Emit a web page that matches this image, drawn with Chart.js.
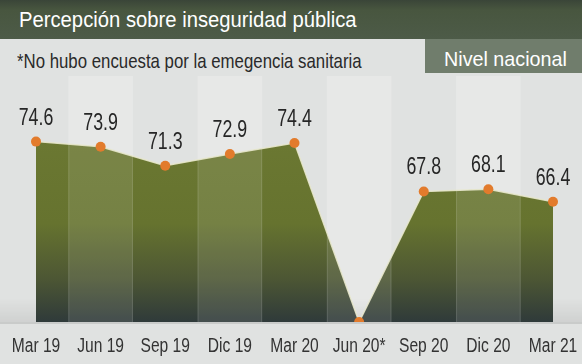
<!DOCTYPE html>
<html>
<head>
<meta charset="utf-8">
<script src="https://cdn.jsdelivr.net/npm/chart.js@4"></script>
<style>
  html, body { margin: 0; padding: 0; }
  body { width: 582px; height: 364px; background: #e0e2e1; position: relative; overflow: hidden;
         font-family: "Liberation Sans", sans-serif; }
  #header { position: absolute; left: 0; top: 0; width: 582px; height: 39px;
            background: linear-gradient(#3a4538 0, #48563f 10px, #4d5b48 100%); }
  .txt { position: absolute; white-space: nowrap; transform-origin: 0 0; }
  #title { left: 19px; top: 9px; color: #fff; font-size: 22px; line-height: 22px; transform: scaleX(0.92); }
  #note { left: 17px; top: 50px; color: #2a2a2a; font-size: 21px; line-height: 21px; transform: scaleX(0.80); }
  #scope { position: absolute; left: 425px; top: 39px; width: 157px; height: 34px; background: #707d6c; }
  #scopeTxt { left: 444px; top: 48px; color: #fff; font-size: 21px; line-height: 21px; transform: scaleX(0.94); }
  #wrap { position: absolute; left: 0; top: 76px; width: 582px; height: 288px; }
</style>
</head>
<body>
<div id="header"></div>
<div class="txt" id="title">Percepción sobre inseguridad pública</div>
<div class="txt" id="note">*No hubo encuesta por la emegencia sanitaria</div>
<div id="scope"></div>
<div class="txt" id="scopeTxt">Nivel nacional</div>
<div id="wrap"><canvas id="chart"></canvas></div>
<script>
// periodos de la encuesta
const labels = ['Mar 19', 'Jun 19', 'Sep 19', 'Dic 19', 'Mar 20', 'Jun 20*', 'Sep 20', 'Dic 20', 'Mar 21'];
// porcentaje; null = sin encuesta
const values = [74.6, 73.9, 71.3, 72.9, 74.4, null, 67.8, 68.1, 66.4];
const yMin = 50;
const yMax = 80;

const plotted = values.map(v => v === null ? yMin : v);

// texto angosto (la fuente original es condensada)
function narrowText(ctx, text, x, y, sx) {
    ctx.save();
    ctx.translate(x, y);
    ctx.scale(sx, 1);
    ctx.fillText(text, 0, 0);
    ctx.restore();
}

function bandEdges(pts, i) {
    const l = i > 0 ? (pts[i - 1].x + pts[i].x) / 2 : pts[i].x;
    const r = i < pts.length - 1 ? (pts[i + 1].x + pts[i].x) / 2 : pts[i].x;
    return [l, r];
}

const bandsPlugin = {
    id: 'bands',
    beforeDatasetsDraw(chart) {
        const { ctx, chartArea, width } = chart;
        const pts = chart.getDatasetMeta(0).data;
        ctx.save();
        ctx.fillStyle = 'rgba(255,255,255,0.22)';
        pts.forEach((p, i) => {
            if (i % 2 === 0) return;
            const [l, r] = bandEdges(pts, i);
            ctx.fillRect(l, 0, r - l, chartArea.bottom);
        });
        // sombra suave sobre la base
        const sh = ctx.createLinearGradient(0, chartArea.bottom - 24, 0, chartArea.bottom);
        sh.addColorStop(0, 'rgba(0,0,0,0)');
        sh.addColorStop(1, 'rgba(0,0,0,0.07)');
        ctx.fillStyle = sh;
        ctx.fillRect(0, chartArea.bottom - 24, width, 24);
        ctx.fillStyle = '#c9cbca';
        ctx.fillRect(0, chartArea.bottom, width, 2);
        ctx.restore();
    },
    beforeDatasetDraw(chart) {
        // bandas claras dentro del area
        const { ctx, chartArea } = chart;
        const pts = chart.getDatasetMeta(0).data;
        ctx.save();
        ctx.beginPath();
        ctx.moveTo(pts[0].x, chartArea.bottom);
        pts.forEach(p => ctx.lineTo(p.x, p.y));
        ctx.lineTo(pts[pts.length - 1].x, chartArea.bottom);
        ctx.closePath();
        ctx.clip();
        pts.forEach((p, i) => {
            if (i % 2 === 0) return;
            const [l, r] = bandEdges(pts, i);
            ctx.fillStyle = 'rgba(255,255,255,0.1)';
            ctx.fillRect(l, 0, r - l, chartArea.bottom);
            ctx.fillStyle = 'rgba(255,255,255,0.12)';
            ctx.fillRect(l, 0, 1, chartArea.bottom);
            ctx.fillRect(r - 1, 0, 1, chartArea.bottom);
        });
        ctx.restore();
    },
    afterDatasetsDraw(chart) {
        const { ctx, chartArea } = chart;
        const pts = chart.getDatasetMeta(0).data;
        const xs = chart.scales.x;
        ctx.save();
        ctx.textAlign = 'center';
        ctx.textBaseline = 'alphabetic';
        ctx.fillStyle = '#262626';
        ctx.font = '24px "Liberation Sans", sans-serif';
        pts.forEach((p, i) => {
            if (values[i] === null) return;
            narrowText(ctx, values[i].toFixed(1), p.x, p.y - 17, 0.74);
        });
        ctx.fillStyle = '#333333';
        ctx.font = '19.5px "Liberation Sans", sans-serif';
        labels.forEach((lab, i) => {
            narrowText(ctx, lab, xs.getPixelForTick(i), chartArea.bottom + 30, 0.8);
        });
        ctx.restore();
    }
};

const ctx = document.getElementById('chart').getContext('2d');
new Chart(ctx, {
    type: 'line',
    data: {
        labels: labels,
        datasets: [{
            data: plotted,
            fill: 'start',
            backgroundColor: (c) => {
                const area = c.chart.chartArea;
                if (!area) return '#65722f';
                const g = c.chart.ctx.createLinearGradient(0, area.top, 0, area.bottom);
                g.addColorStop(0, '#6d7a33');
                g.addColorStop(0.55, '#66732f');
                g.addColorStop(0.8, '#4d5734');
                g.addColorStop(1, '#2f3a3a');
                return g;
            },
            borderColor: 'rgba(232,232,205,0.9)',
            borderWidth: 1.5,
            tension: 0,
            pointRadius: 5,
            pointBorderWidth: 0,
            pointBackgroundColor: '#e27b2c',
            pointHoverRadius: 5
        }]
    },
    options: {
        responsive: true,
        maintainAspectRatio: false,
        animation: false,
        layout: { padding: { left: 36, right: 29, top: 26, bottom: 42 } },
        plugins: {
            legend: { display: false },
            tooltip: { enabled: false }
        },
        scales: {
            y: { display: false, min: yMin, max: yMax },
            x: { display: false, offset: false }
        }
    },
    plugins: [bandsPlugin]
});
</script>
</body>
</html>
